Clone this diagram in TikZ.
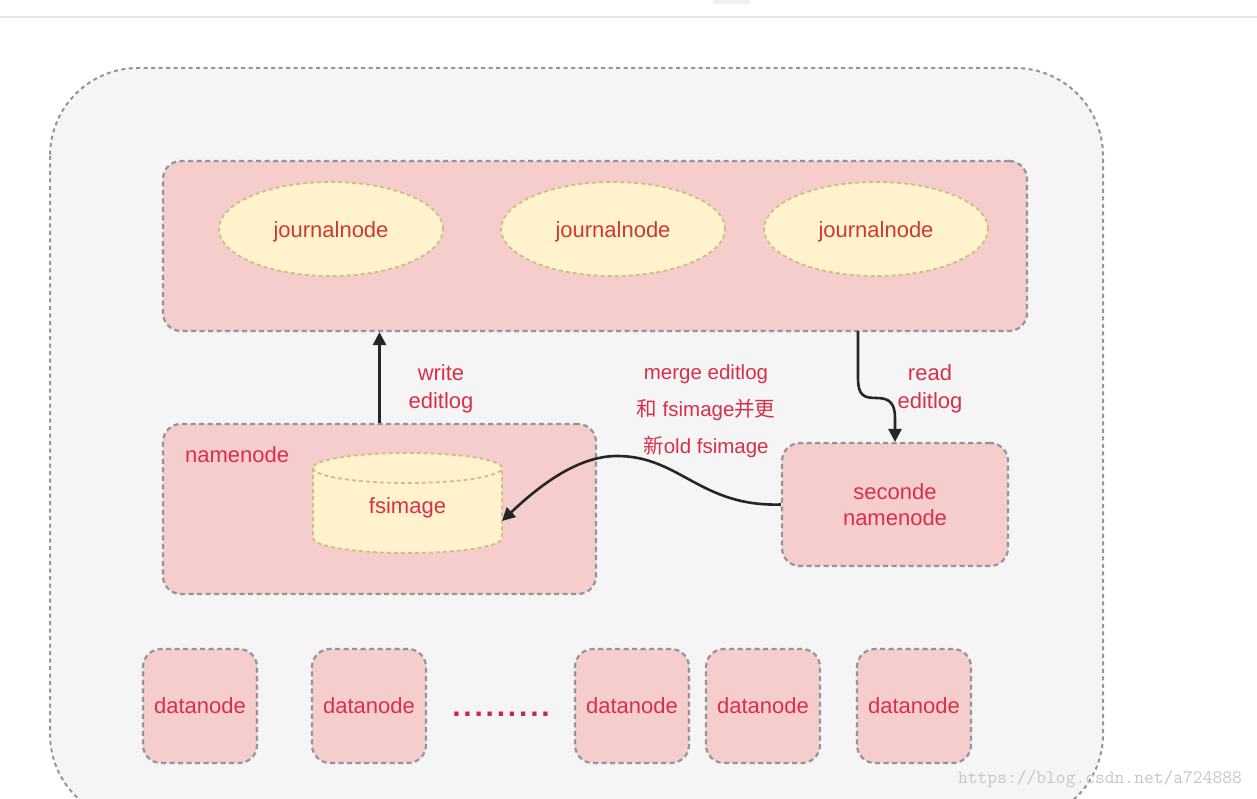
\documentclass[tikz,border=0pt]{standalone}
\usepackage{fontspec}
\setmainfont{Liberation Sans}
\newfontfamily\cjk{Noto Sans CJK SC}
\usetikzlibrary{arrows.meta,calc,shapes.geometric}
\definecolor{pinkf}{HTML}{F5CDCD}
\definecolor{yellowf}{HTML}{FFF2CC}
\definecolor{yellowb}{HTML}{D4BC7C}
\definecolor{grayb}{HTML}{959595}
\definecolor{outerf}{HTML}{F5F5F6}
\definecolor{txtred}{HTML}{D9304A}
\definecolor{jred}{HTML}{CF3A30}
\definecolor{dotc}{HTML}{C8284F}
\definecolor{tabf}{HTML}{EEF0F6}
\begin{document}
\begin{tikzpicture}[x=1pt,y=-1pt,
  pbox/.style={draw=grayb, fill=pinkf, dash pattern=on 5pt off 3.5pt, line width=2.2pt,
    rounded corners=18pt, inner sep=0pt, text=txtred, font=\fontsize{22}{26}\selectfont, align=center},
  jell/.style={ellipse, draw=yellowb, fill=yellowf, dash pattern=on 4pt off 3pt, line width=1.8pt,
    minimum width=224pt, minimum height=94pt, inner sep=0pt, text=jred, font=\fontsize{22}{26}\selectfont,
    text height=22pt, text depth=4pt},
  dnode/.style={pbox, minimum width=114pt, minimum height=114pt},
  lbl/.style={text=txtred, align=center, inner sep=0pt},
  conn/.style={draw=black!85, line width=2.6pt, -{Triangle[length=13pt,width=13pt]}}
]
\useasboundingbox (0,0) rectangle (1257,799);
\clip (0,0) rectangle (1257,799);
\fill[white] (0,0) rectangle (1257,799);
% top strip
\fill[black!9] (0,16) rectangle (1257,18.5);
\fill[tabf] (713,0) rectangle (750,4);
% outer container
\draw[draw=grayb, fill=outerf, dash pattern=on 4pt off 3.5pt, line width=2pt, rounded corners=88pt]
  (50,68) rectangle (1103,822);
% journal box
\node[pbox, minimum width=864pt, minimum height=170pt] (journal) at (595,246) {};
\node[jell] (j1) at (331,229) {journalnode};
\node[jell] (j2) at (613,229) {journalnode};
\node[jell] (j3) at (876,229) {journalnode};
% namenode box
\node[pbox, minimum width=433pt, minimum height=170pt] (namenode) at (379.5,509) {};
\node[lbl, font=\fontsize{22}{26}\selectfont, anchor=west] (nnlabel) at (185,455) {namenode};
% fsimage cylinder
\filldraw[draw=yellowb, fill=yellowf, dash pattern=on 4pt off 3pt, line width=1.8pt]
  (313,468) -- (313,538) arc[start angle=180, end angle=0, x radius=94.5, y radius=15]
  -- (502,468) arc[start angle=0, end angle=-180, x radius=94.5, y radius=15] -- cycle;
\draw[draw=yellowb, dash pattern=on 4pt off 3pt, line width=1.8pt]
  (313,468) arc[start angle=180, end angle=0, x radius=94.5, y radius=15];
\node[lbl, font=\fontsize{22}{26}\selectfont, minimum width=189pt, minimum height=100pt] (fsimg) at (407.5,508) {fsimage};
% secondary namenode
\node[pbox, minimum width=226pt, minimum height=123pt] (second) at (895,504.5) {seconde\\namenode};
% datanodes
\node[dnode] (d1) at (200,706) {datanode};
\node[dnode] (d2) at (369,706) {datanode};
\node[dnode] (d3) at (632,706) {datanode};
\node[dnode] (d4) at (763,706) {datanode};
\node[dnode] (d5) at (914,706) {datanode};
\node[lbl, text=dotc, font=\fontsize{30}{30}\selectfont\bfseries] (dots) at (501,714)
  {.\kern2.8pt.\kern2.8pt.\kern2.8pt.\kern2.8pt.\kern2.8pt.\kern2.8pt.\kern2.8pt.\kern2.8pt.};
% connectors
\draw[conn] (namenode.north) -- (namenode.north |- journal.south);
\coordinate (rdstart) at (858,331);
\draw[conn] (rdstart) -- (858,378) .. controls (858,396) and (864,398) .. (877,398)
  .. controls (890,398) and (895,404) .. (895,418) -- (second.north);
\coordinate (fsin) at (502,521);
\draw[conn] (second.west) .. controls (700,507) and (680,456) .. (617,456)
  .. controls (578,456) and (540,485) .. (fsin);
% labels
\node[lbl, font=\fontsize{22}{28}\selectfont] (wlbl) at (441,389) {write\\editlog};
\node[lbl, font=\fontsize{22}{28}\selectfont] (rlbl) at (930,389) {read\\editlog};
\node[lbl, font=\fontsize{20.5}{37}\selectfont] (mlbl) at (706,411)
  {merge editlog\\{\cjk 和} fsimage{\cjk 并更}\\{\cjk 新}old fsimage};
% watermark
\node[text=black!22, font=\ttfamily\fontsize{19}{20}\selectfont, inner sep=0pt] (wm) at (1100,779) {https://blog.csdn.net/a724888};
\end{tikzpicture}
\end{document}
